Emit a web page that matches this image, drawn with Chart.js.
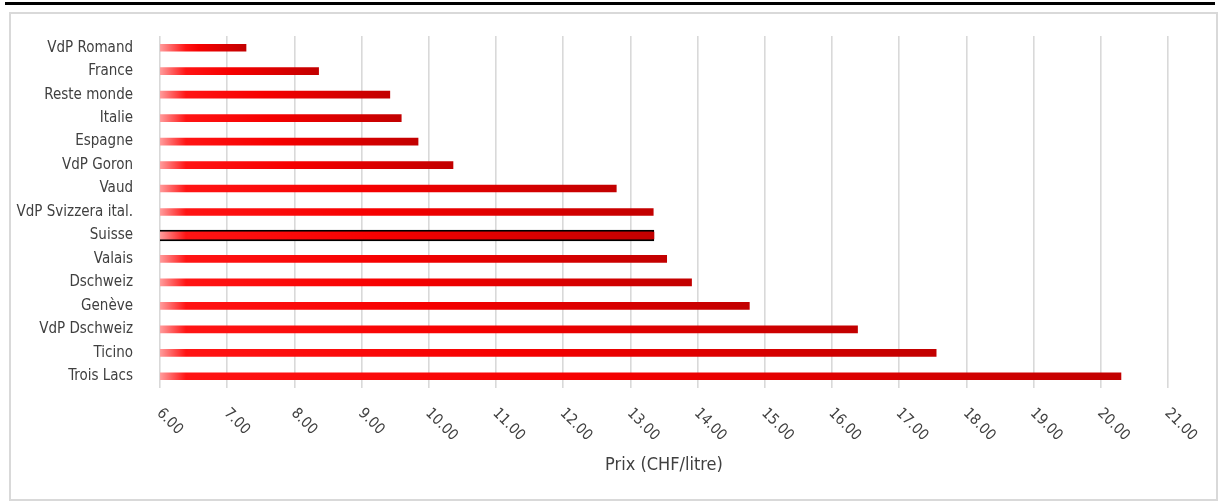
<!DOCTYPE html>
<html>
<head>
<meta charset="utf-8">
<script src="https://cdn.jsdelivr.net/npm/chart.js@4.4.1/dist/chart.umd.min.js"></script>
<style>
  html, body { margin:0; padding:0; background:#fff; width:1219px; height:503px; overflow:hidden; }
  #topline { position:absolute; left:5px; top:2px; width:1210px; height:3px; background:#000; }
  #frame { position:absolute; left:9px; top:12px; width:1209px; height:489px; box-sizing:border-box; border:2px solid #d9d9d9; }
  #wrap { position:absolute; left:0; top:0; width:1205px; height:485px; }
</style>
</head>
<body>
<div id="topline"></div>
<div id="frame"><div id="wrap"><canvas id="c" width="1205" height="485"></canvas></div></div>
<script>
const categories = ['VdP Romand','France','Reste monde','Italie','Espagne','VdP Goron','Vaud','VdP Svizzera ital.','Suisse','Valais','Dschweiz','Genève','VdP Dschweiz','Ticino','Trois Lacs'];
const prices = [7.28, 8.36, 9.42, 9.59, 9.84, 10.36, 12.79, 13.34, 13.35, 13.54, 13.91, 14.77, 16.38, 17.55, 20.30];
const highlighted = [null, null, null, null, null, null, null, null, 13.35, null, null, null, null, null, null];
const xTickLabels = ['6.00','7.00','8.00','9.00','10.00','11.00','12.00','13.00','14.00','15.00','16.00','17.00','18.00','19.00','20.00','21.00'];
const xMin = 6, xMax = 21;
const axisTitle = 'Prix (CHF/litre)';

const FONT = '"DejaVu Sans Condensed", "Liberation Sans Narrow", sans-serif';
const TEXT = '#404040';

function barGradient(context) {
  const chart = context.chart;
  if (!chart.chartArea) return '#e00000';
  const v = context.raw;
  if (v == null) return 'rgba(0,0,0,0)';
  const xs = chart.scales.x;
  const x0 = xs.getPixelForValue(xs.min);
  const x1 = xs.getPixelForValue(v);
  const len = Math.max(1, x1 - x0);
  const f = Math.min(0.3, 26 / len);
  const g = chart.ctx.createLinearGradient(x0, 0, x1, 0);
  g.addColorStop(0, '#ff9c9c');
  g.addColorStop(f, '#ff1414');
  g.addColorStop(Math.max(f + 0.01, 0.45), '#f60000');
  g.addColorStop(1, '#c20000');
  return g;
}

const xLabelPlugin = {
  id: 'xRotLabels',
  afterDraw(chart) {
    const s = chart.scales.x;
    const ctx = chart.ctx;
    ctx.save();
    ctx.font = '15px ' + FONT;
    ctx.fillStyle = TEXT;
    ctx.textAlign = 'left';
    ctx.textBaseline = 'middle';
    s.ticks.forEach((t, i) => {
      const x = s.getPixelForTick(i);
      ctx.save();
      ctx.translate(x - 1, s.top + 23);
      ctx.rotate(Math.PI / 4);
      ctx.fillText(xTickLabels[i], 0, 0);
      ctx.restore();
    });
    ctx.restore();
  }
};

new Chart(document.getElementById('c'), {
  type: 'bar',
  data: {
    labels: categories,
    datasets: [
      { data: prices, backgroundColor: barGradient, borderWidth: 0, barThickness: 7 },
      { data: highlighted, backgroundColor: barGradient, borderColor: '#000', borderWidth: 2, borderSkipped: false, barThickness: 11 }
    ]
  },
  options: {
    indexAxis: 'y',
    responsive: false,
    animation: false,
    grouped: false,
    layout: { padding: { left: 0, right: 48, top: 22, bottom: 0 } },
    plugins: { legend: { display: false }, tooltip: { enabled: false } },
    scales: {
      x: {
        type: 'linear',
        min: xMin, max: xMax,
        ticks: { display: false, stepSize: 1 },
        grid: { color: '#d9d9d9', lineWidth: 1.6, drawTicks: false },
        border: { display: false },
        title: { display: true, text: axisTitle, color: TEXT, font: { family: FONT, size: 18 }, padding: { top: 0, bottom: 23 } },
        afterFit(scale) { scale.height = 111; scale.paddingLeft = 0; scale.paddingRight = 0; }
      },
      y: {
        grid: { display: false },
        border: { display: false },
        ticks: { color: TEXT, font: { family: FONT, size: 15 }, padding: 19, autoSkip: false },
        afterFit(scale) { scale.width = 149; scale.paddingTop = 0; scale.paddingBottom = 0; }
      }
    }
  },
  plugins: [xLabelPlugin]
});
</script>
</body>
</html>
